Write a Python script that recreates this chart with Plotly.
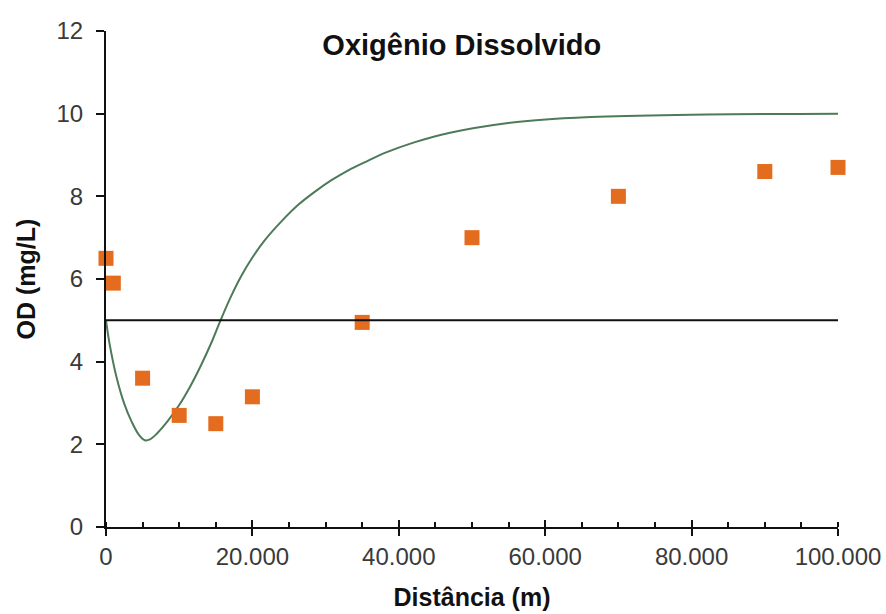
import plotly.graph_objects as go

# Observed data (distance in m, dissolved oxygen in mg/L)
obs_x = [0, 1000, 5000, 10000, 15000, 20000, 35000, 50000, 70000, 90000, 100000]
obs_y = [6.5, 5.9, 3.6, 2.7, 2.5, 3.15, 4.95, 7.0, 8.0, 8.6, 8.7]

# Model curve
curve_x = [0, 500, 1500, 2500, 3500, 4500, 5300, 6000, 7000, 8500, 10000, 11500,
           13000, 14500, 15600, 17000, 18500, 20000, 21700, 24000, 26300, 28600,
           30800, 33100, 35400, 38100, 42000, 47000, 54700, 61000, 68400, 82100, 100000]
curve_y = [5.0, 4.42, 3.58, 2.98, 2.55, 2.23, 2.10, 2.12, 2.27, 2.58, 2.95, 3.40,
           3.92, 4.50, 4.98, 5.55, 6.08, 6.52, 6.94, 7.40, 7.80, 8.12,
           8.39, 8.63, 8.83, 9.05, 9.30, 9.54, 9.77, 9.87, 9.93, 9.98, 10.0]

# Standard limit line
limit_x = [0, 100000]
limit_y = [5, 5]

title_text = "Oxigênio Dissolvido"
x_title = "Distância (m)"
y_title = "OD (mg/L)"

font_family = "Liberation Sans, Arial, sans-serif"
tick_color = "#3a3a3a"

fig = go.Figure()
fig.add_trace(go.Scatter(x=limit_x, y=limit_y, mode="lines",
                         line=dict(color="#111111", width=2),
                         xaxis="x2", showlegend=False, hoverinfo="skip"))
fig.add_trace(go.Scatter(x=curve_x, y=curve_y, mode="lines",
                         line=dict(color="#4d7a58", width=2, shape="spline", smoothing=1.0),
                         showlegend=False))
fig.add_trace(go.Scatter(x=obs_x, y=obs_y, mode="markers",
                         marker=dict(symbol="square", size=15, color="#e46c1f"),
                         cliponaxis=False, showlegend=False))

fig.update_layout(
    width=886, height=614,
    margin=dict(l=106, r=48, t=31, b=87),
    paper_bgcolor="white", plot_bgcolor="white",
    separators=",.",
    font=dict(family=font_family, color=tick_color),
    title=dict(text=title_text, x=0.486, xref="paper", y=1 - 45 / 614,
               yref="container", xanchor="center", yanchor="middle",
               automargin=False,
               font=dict(family=font_family, size=29, color="#111111", weight="bold")),
    xaxis=dict(range=[0, 100000], tickmode="linear", tick0=0, dtick=20000,
               tickformat=",d", showgrid=False, zeroline=False, automargin=False,
               showline=True, linecolor="#111111", linewidth=2,
               ticks="outside", ticklen=7, tickwidth=2, tickcolor="#111111",
               ticklabelstandoff=0,
               tickfont=dict(size=24, color=tick_color),
               minor=dict(ticks="inside", dtick=5000, ticklen=5, tickwidth=1.5,
                          tickcolor="#111111", showgrid=False),
               title=dict(text=x_title, standoff=20,
                          font=dict(size=25, color="#111111", weight="bold"))),
    xaxis2=dict(range=[0, 100000], overlaying="x", anchor="y", side="bottom",
                tickmode="linear", tick0=0, dtick=20000, showticklabels=False,
                showgrid=False, zeroline=False, showline=False, automargin=False,
                ticks="inside", ticklen=7, tickwidth=2, tickcolor="#111111"),
    yaxis=dict(range=[0, 12], tickmode="linear", tick0=0, dtick=2,
               showgrid=False, zeroline=False, automargin=False,
               showline=True, linecolor="#111111", linewidth=2,
               ticks="outside", ticklen=8, tickwidth=1.5, tickcolor="#111111",
               ticklabelstandoff=8,
               tickfont=dict(size=24, color=tick_color),
               title=dict(text=y_title, standoff=14,
                          font=dict(size=25, color="#111111", weight="bold"))),
)

fig.write_html("out.html",
               config={"displayModeBar": False},
               post_script="document.body.style.margin='0';document.body.style.padding='0';")
